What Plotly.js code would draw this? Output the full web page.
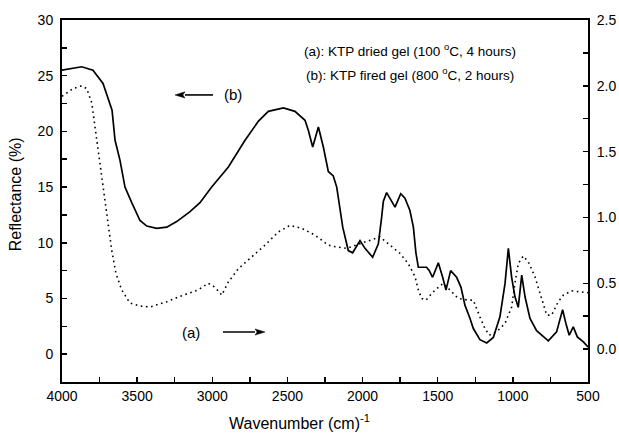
<!DOCTYPE html>
<html>
<head>
<meta charset="utf-8">
<script src="https://cdn.plot.ly/plotly-3.0.1.min.js"></script>
<style>
html,body{margin:0;padding:0;background:#fff;}
#chart{width:619px;height:435px;}
</style>
</head>
<body>
<div id="chart"></div>
<script>
// (b) KTP fired gel - left axis (Reflectance %)
const wavenumberB = [4000, 3869, 3794, 3727, 3667, 3647, 3614, 3581, 3536, 3481, 3436, 3370, 3303, 3237, 3148, 3082, 3004, 2893, 2782, 2694, 2627, 2527, 2450, 2383, 2361, 2332, 2294, 2261, 2228, 2195, 2172, 2150, 2132, 2095, 2066, 2017, 1984, 1933, 1895, 1873, 1862, 1840, 1784, 1746, 1718, 1685, 1662, 1645, 1629, 1574, 1556, 1534, 1496, 1467, 1445, 1414, 1374, 1345, 1319, 1285, 1263, 1219, 1174, 1130, 1086, 1052, 1030, 1008, 986, 964, 941, 919, 886, 842, 764, 709, 669, 647, 625, 598, 571, 531, 500];
const reflectanceB = [25.5, 25.8, 25.5, 24.3, 21.9, 19.2, 17.4, 15.0, 13.6, 12.0, 11.5, 11.3, 11.4, 11.9, 12.8, 13.6, 15.0, 16.8, 19.2, 20.9, 21.8, 22.1, 21.8, 21.0, 20.1, 18.6, 20.4, 18.6, 16.4, 16.0, 15.0, 13.2, 11.4, 9.3, 9.1, 10.2, 9.5, 8.7, 9.9, 12.3, 13.7, 14.5, 13.2, 14.4, 14.0, 12.9, 11.4, 9.1, 7.8, 7.8, 7.5, 6.9, 8.2, 6.9, 5.75, 7.5, 6.9, 6.0, 4.4, 3.2, 2.3, 1.3, 1.0, 1.5, 3.35, 6.35, 9.5, 6.9, 5.15, 4.2, 7.1, 5.15, 3.2, 2.1, 1.2, 2.0, 4.0, 2.75, 1.7, 2.45, 1.55, 1.1, 0.65];

// (a) KTP dried gel - right axis
const wavenumberA = [4000, 3925, 3869, 3836, 3802, 3780, 3758, 3736, 3714, 3692, 3669, 3641, 3603, 3548, 3481, 3414, 3303, 3193, 3093, 3027, 2982, 2937, 2893, 2827, 2738, 2649, 2561, 2483, 2405, 2317, 2228, 2194, 2106, 2039, 1972, 1884, 1818, 1751, 1696, 1651, 1629, 1607, 1578, 1530, 1463, 1408, 1364, 1297, 1263, 1219, 1186, 1157, 1108, 1052, 1008, 986, 964, 931, 897, 853, 808, 775, 742, 698, 664, 609, 553, 500];
const reflectanceA = [1.92, 1.98, 2.0, 1.98, 1.87, 1.69, 1.51, 1.34, 1.13, 0.955, 0.75, 0.575, 0.45, 0.35, 0.327, 0.32, 0.36, 0.41, 0.45, 0.50, 0.47, 0.41, 0.51, 0.61, 0.70, 0.79, 0.89, 0.94, 0.917, 0.866, 0.79, 0.78, 0.765, 0.79, 0.815, 0.853, 0.79, 0.727, 0.65, 0.55, 0.45, 0.385, 0.372, 0.435, 0.50, 0.435, 0.385, 0.372, 0.372, 0.245, 0.157, 0.106, 0.131, 0.195, 0.32, 0.50, 0.65, 0.707, 0.663, 0.55, 0.372, 0.258, 0.258, 0.36, 0.41, 0.443, 0.435, 0.428];

const xTickVals = [4000, 3500, 3000, 2500, 2000, 1500, 1000, 500];
const leftTickVals = [0, 5, 10, 15, 20, 25, 30];
const rightTickVals = [0.0, 0.5, 1.0, 1.5, 2.0, 2.5];
const rightTickText = ['0.0', '0.5', '1.0', '1.5', '2.0', '2.5'];

const FONT = 'Liberation Sans, Arial, Helvetica, sans-serif';

const traces = [
  {
    x: wavenumberB, y: reflectanceB, type: 'scatter', mode: 'lines',
    line: {color: '#000', width: 1.7}, yaxis: 'y', showlegend: false, hoverinfo: 'skip'
  },
  {
    x: wavenumberA, y: reflectanceA, type: 'scatter', mode: 'lines',
    line: {color: '#000', width: 1.6, dash: '1.6px,3.6px'}, yaxis: 'y2', showlegend: false, hoverinfo: 'skip'
  }
];

// arrow helper (paper coords): horizontal arrow from tail to tip
function arrowShapes(tailX, tipX, y) {
  const dir = tipX > tailX ? 1 : -1;
  const headLen = 0.019, halfH = 0.0085;
  const baseX = tipX - dir * headLen;
  return [
    {type: 'line', xref: 'paper', yref: 'paper', x0: tailX, x1: baseX, y0: y, y1: y,
     line: {color: '#000', width: 1.6}},
    {type: 'path', xref: 'paper', yref: 'paper',
     path: `M ${tipX} ${y} L ${baseX} ${y + halfH} L ${baseX + dir * 0.004} ${y} L ${baseX} ${y - halfH} Z`,
     fillcolor: '#000', line: {color: '#000', width: 0.5}}
  ];
}

const layout = {
  width: 619, height: 435,
  margin: {l: 62, r: 31, t: 20, b: 53},
  paper_bgcolor: '#fff', plot_bgcolor: '#fff',
  font: {family: FONT, size: 14, color: '#000'},
  showlegend: false,
  xaxis: {
    range: [4000, 500], autorange: false,
    tickvals: xTickVals, ticktext: xTickVals.map(String),
    ticks: 'inside', ticklen: 5, tickwidth: 1.5, tickcolor: '#000',
    minor: {dtick: 250, tick0: 0, ticks: 'inside', ticklen: 5, tickwidth: 1.5, tickcolor: '#000'},
    showline: true, linewidth: 2, linecolor: '#000', mirror: true,
    showgrid: false, zeroline: false,
    tickfont: {family: FONT, size: 14}
  },
  yaxis: {
    range: [-2.5, 30], autorange: false,
    tickvals: leftTickVals,
    ticks: 'inside', ticklen: 5, tickwidth: 1.5, tickcolor: '#000',
    minor: {dtick: 2.5, tick0: 0, ticks: 'inside', ticklen: 5, tickwidth: 1.5, tickcolor: '#000'},
    showline: true, linewidth: 2, linecolor: '#000',
    showgrid: false, zeroline: false,
    tickfont: {family: FONT, size: 14},
    ticklabelstandoff: 4
  },
  yaxis2: {
    overlaying: 'y', side: 'right',
    range: [-0.25, 2.5], autorange: false,
    tickvals: rightTickVals, ticktext: rightTickText,
    ticks: 'inside', ticklen: 5, tickwidth: 1.5, tickcolor: '#000',
    minor: {dtick: 0.25, tick0: 0, ticks: 'inside', ticklen: 5, tickwidth: 1.5, tickcolor: '#000'},
    showline: true, linewidth: 2, linecolor: '#000',
    showgrid: false, zeroline: false,
    tickfont: {family: FONT, size: 14},
    ticklabelstandoff: 4
  },
  shapes: [].concat(
    arrowShapes(0.2871, 0.2148, 0.793),
    arrowShapes(0.306, 0.386, 0.138)
  ),
  annotations: [
    {xref: 'paper', yref: 'paper', x: 0.6616, y: 0.917, xanchor: 'center', yanchor: 'middle',
     text: '(a): KTP dried gel (100 <sup>o</sup>C, 4 hours)', showarrow: false, font: {family: FONT, size: 13.5}},
    {xref: 'paper', yref: 'paper', x: 0.6616, y: 0.851, xanchor: 'center', yanchor: 'middle',
     text: '(b): KTP fired gel (800 <sup>o</sup>C, 2 hours)', showarrow: false, font: {family: FONT, size: 13.5}},
    {xref: 'paper', yref: 'paper', x: 0.325, y: 0.793, xanchor: 'center', yanchor: 'middle',
     text: '(b)', showarrow: false, font: {family: FONT, size: 15}},
    {xref: 'paper', yref: 'paper', x: 0.2457, y: 0.138, xanchor: 'center', yanchor: 'middle',
     text: '(a)', showarrow: false, font: {family: FONT, size: 15}},
    {xref: 'paper', yref: 'paper', x: 0.452, y: -0.1436, xanchor: 'center', yanchor: 'bottom',
     text: 'Wavenumber (cm)<sup>-1</sup>', showarrow: false, font: {family: FONT, size: 16}},
    {xref: 'paper', yref: 'paper', x: -0.089, y: 0.519, xanchor: 'center', yanchor: 'middle',
     text: 'Reflectance (%)', textangle: -90, showarrow: false, font: {family: FONT, size: 16}}
  ]
};

Plotly.newPlot('chart', traces, layout, {staticPlot: true, displayModeBar: false});
</script>
</body>
</html>
